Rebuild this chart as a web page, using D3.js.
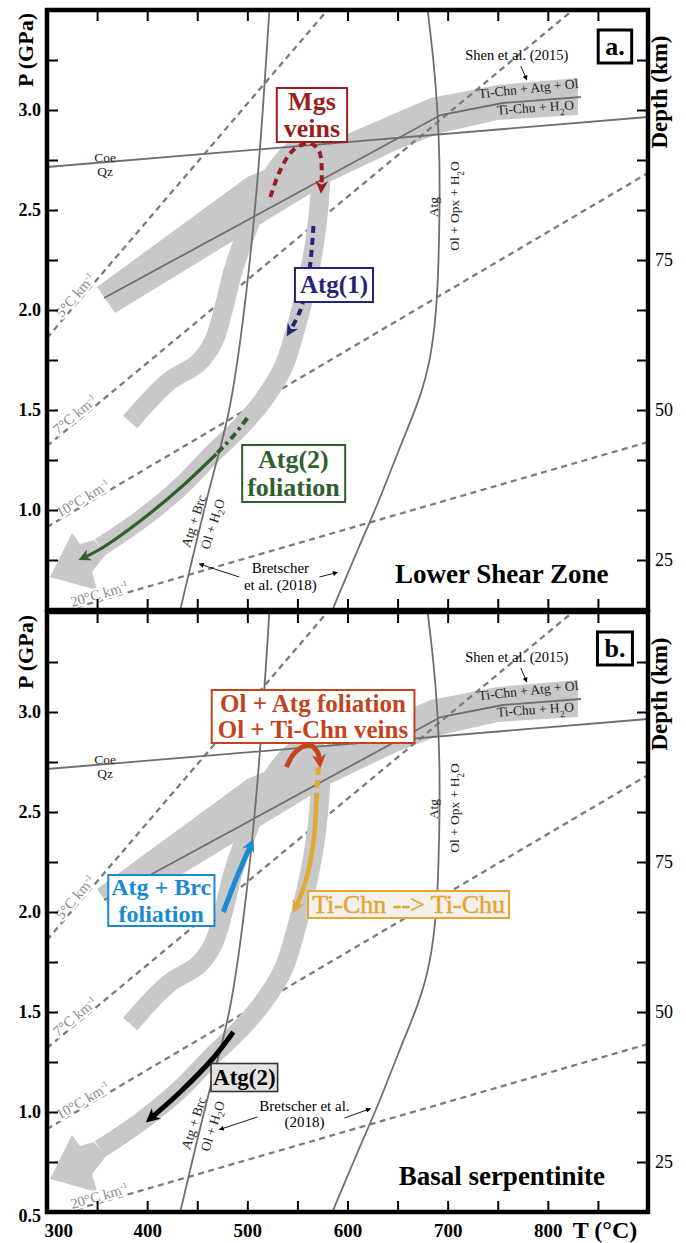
<!DOCTYPE html>
<html>
<head>
<meta charset="utf-8">
<script src="https://cdn.jsdelivr.net/npm/d3@7"></script>
<style>
  body { margin: 0; background: #fff; }
  svg text { font-family: "Liberation Serif", "Times New Roman", serif; }
</style>
</head>
<body>
<svg id="chart" width="686" height="1243"></svg>
<script>
// ---- data (T in °C, P in GPa) ----
const tDomain = [300, 900];
const pDomain = [0.5, 3.5];
const tTicks = [300, 350, 400, 450, 500, 550, 600, 650, 700, 750, 800, 850];
const tLabels = [300, 400, 500, 600, 700, 800];
const pTicks = [0.75, 1, 1.25, 1.5, 1.75, 2, 2.25, 2.5, 2.75, 3, 3.25];
const pLabelSets = [[1, 1.5, 2, 2.5, 3], [0.5, 1, 1.5, 2, 2.5, 3]];
const depthTicks = [25, 33.33, 41.67, 50, 58.33, 66.67, 75, 83.33, 91.67, 100, 108.33];
const depthLabels = [25, 50, 75];
const kmPerGPa = 100 / 3;

const geoNames = ["5", "7", "10", "20"];
const geoLines = [
  [[300, 1.86], [580, 3.5]],
  [[300, 1.32], [825, 3.5]],
  [[300, 0.915], [900, 2.685]],
  [[320, 0.5], [900, 1.34]]
];
const geoLabelT = [333, 332, 339, 354];

const coeQz = [[300, 2.715], [900, 2.965]];
const atgBrc = [[522, 3.5], [512, 2.72], [500, 2.1], [483, 1.47], [466, 1.2], [433, 0.5]];
const atgOpx = [[680, 3.5], [686, 3.25], [690, 3.0], [692, 2.75], [692, 2.5], [691, 2.25],
  [689, 2.0], [683, 1.75], [672, 1.55], [651, 1.3], [632, 1.05], [610, 0.8], [589, 0.55], [585, 0.5]];
const shenLine = [[357, 2.06], [693, 2.975], [755, 3.035], [833, 3.065]];
const shenBand = [[350, 2.115], [500, 2.665], [602, 2.885], [683, 3.06], [750, 3.125], [830, 3.16],
  [830, 2.975], [750, 2.95], [693, 2.885], [649, 2.8], [582, 2.64], [368, 1.985]];

const loopPath = [[383, 1.44], [421, 1.64], [451, 1.735], [466, 1.84], [476, 2.0], [486, 2.2],
  [500, 2.4], [513, 2.56], [527, 2.69], [543, 2.785], [557, 2.83], [568, 2.815], [573, 2.76],
  [572, 2.55], [567, 2.33], [559, 2.12], [549, 1.92], [536, 1.715], [516, 1.55], [493, 1.415],
  [466, 1.285], [433, 1.115], [393, 0.95], [353, 0.815]];
const loopHead = [[303, 0.665], [325, 0.885], [333, 0.83], [347, 0.85], [359, 0.78], [345, 0.69], [350, 0.6]];

// panel a paths
const mgsArrow = [[523, 2.565], [533, 2.7], [546, 2.8], [562, 2.835], [572, 2.79], [574, 2.62]];
const atg1Arrow = [[566, 2.42], [562, 2.2], [553, 2.0], [543, 1.9]];
const atg2Dashed = [[500, 1.46], [486, 1.37], [469, 1.28]];
const atg2Arrow = [[469, 1.28], [433, 1.11], [393, 0.945], [355, 0.81], [338, 0.765]];
// panel b paths
const olAtgArrow = [[539, 2.725], [548, 2.8], [562, 2.835], [570, 2.8], [572, 2.76]];
const tiDashed = [[571, 2.725], [569, 2.575]];
const tiArrow = [[569, 2.575], [566, 2.35], [558, 2.15], [549, 2.03]];
const brcArrow = [[476, 2.0], [490, 2.18], [503, 2.33]];
const atg2bArrow = [[486, 1.4], [466, 1.27], [433, 1.1], [405, 0.975]];

const panelNames = ["a.", "b."];
const panelTitles = ["Lower Shear Zone", "Basal serpentinite"];
const bretscherText = [["Bretscher", "et al. (2018)"], ["Bretscher et al.", "(2018)"]];
const bretscherAt = [[533, 0.685, 0.6], [557, 1.005, 0.925]];
const bretscherArrows = [
  [[[492, 0.665], [452, 0.73]], [[572, 0.665], [590, 0.688]]],
  [[[510, 0.975], [472, 0.912]], [[597, 0.97], [623, 1.017]]]
];

// ---- layout ----
const svg = d3.select("#chart");
const panelTops = [10, 612];
const x = d3.scaleLinear().domain(tDomain).range([47, 648]);
const GRAY = "#c8c8c8";
const LINE = "#6f6f6f";
const DASH = "#7b7b7b";
const SANS = "Liberation Sans, Arial, sans-serif";

const defs = svg.append("defs");
function marker(id, color, len, wid) {
  defs.append("marker")
    .attr("id", id)
    .attr("viewBox", "0 -5 10 10")
    .attr("refX", 4)
    .attr("refY", 0)
    .attr("markerUnits", "userSpaceOnUse")
    .attr("markerWidth", len)
    .attr("markerHeight", wid)
    .attr("orient", "auto")
    .append("path")
    .attr("d", "M0,-5L10,0L0,5L3,0Z")
    .attr("fill", color);
}
marker("m-mgs", "#9a1d20", 13, 13);
marker("m-atg1", "#262477", 13, 12);
marker("m-atg2", "#2f5f2c", 14, 12);
marker("m-ol", "#c2441f", 15, 14);
marker("m-ti", "#e2a735", 15, 13);
marker("m-brc", "#1c8ad3", 15, 13);
marker("m-blk", "#000", 16, 14);
defs.append("marker")
  .attr("id", "m-thin")
  .attr("viewBox", "0 -5 10 10")
  .attr("refX", 9)
  .attr("markerUnits", "userSpaceOnUse")
  .attr("markerWidth", 6)
  .attr("markerHeight", 5)
  .attr("orient", "auto")
  .append("path")
  .attr("d", "M0,-5L10,0L0,5Z")
  .attr("fill", "#000");

// text with _2 subscripts and ^-1 superscripts
function rich(sel, s) {
  s.split(/(_\d|\^-1)/).forEach((part) => {
    if (!part) return;
    if (part[0] === "_") {
      sel.append("tspan").attr("baseline-shift", "sub").attr("font-size", "70%").text(part.slice(1));
    } else if (part[0] === "^") {
      sel.append("tspan").attr("baseline-shift", "super").attr("font-size", "60%").text(part.slice(1));
    } else {
      sel.append("tspan").text(part);
    }
  });
  return sel;
}

function drawPanel(i) {
  const top = panelTops[i];
  const y = d3.scaleLinear().domain(pDomain).range([top + 600, top]);
  const line = d3.line().x((d) => x(d[0])).y((d) => y(d[1]));
  const smooth = d3.line().x((d) => x(d[0])).y((d) => y(d[1])).curve(d3.curveCatmullRom.alpha(0.5));
  const soft = d3.line().x((d) => x(d[0])).y((d) => y(d[1])).curve(d3.curveBasis);

  defs.append("clipPath").attr("id", "clip" + i)
    .append("rect").attr("x", 47).attr("y", top).attr("width", 601).attr("height", 600);

  const g = svg.append("g").attr("clip-path", `url(#clip${i})`);

  // Shen et al. band
  g.append("path").attr("d", line(shenBand) + "Z").attr("fill", GRAY);

  // geotherms
  geoLines.forEach((pts) => {
    g.append("path").attr("d", line(pts)).attr("fill", "none")
      .attr("stroke", DASH).attr("stroke-width", 2.3).attr("stroke-dasharray", "6,4.5");
  });

  // P-T loop band
  g.append("path").attr("d", smooth(loopPath)).attr("fill", "none")
    .attr("stroke", GRAY).attr("stroke-width", 19).attr("stroke-linejoin", "round");
  g.append("path").attr("d", line(loopHead) + "Z").attr("fill", GRAY);

  // reaction lines
  [coeQz, shenLine].forEach((pts) => {
    g.append("path").attr("d", line(pts)).attr("fill", "none").attr("stroke", LINE).attr("stroke-width", 1.8);
  });
  [atgBrc, atgOpx].forEach((pts) => {
    g.append("path").attr("d", soft(pts)).attr("fill", "none").attr("stroke", LINE).attr("stroke-width", 1.8);
  });

  // geotherm labels
  geoLines.forEach((pts, k) => {
    const [[t1, p1], [t2, p2]] = pts;
    const t = geoLabelT[k];
    const p = p1 + (p2 - p1) * (t - t1) / (t2 - t1);
    const ang = Math.atan2(y(p2) - y(p1), x(t2) - x(t1)) * 180 / Math.PI;
    const txt = g.append("text")
      .attr("transform", `translate(${x(t)},${y(p)}) rotate(${ang})`)
      .attr("dy", -1.5)
      .attr("text-anchor", "middle")
      .attr("font-size", 14.5)
      .attr("fill", "#8a8a8a")
      .attr("stroke", "#fff").attr("stroke-width", 4).attr("paint-order", "stroke");
    rich(txt, `${geoNames[k]}°C km^-1`);
  });

  // small reaction labels
  const small = (T, P, s, rot, anchor) => {
    const t = g.append("text")
      .attr("transform", `translate(${x(T)},${y(P)}) rotate(${rot || 0})`)
      .attr("text-anchor", anchor || "middle")
      .attr("font-size", 13.5).attr("fill", "#222");
    return rich(t, s);
  };
  small(358, 2.738, "Coe");
  small(358, 2.668, "Qz");
  small(781, 3.085, "Ti-Chn + Atg + Ol", -6);
  small(788, 2.99, "Ti-Chu + H_2O", -4);
  small(690, 2.515, "Atg", -90);
  small(711, 2.52, "Ol + Opx + H_2O", -90);
  small(446, 0.945, "Atg + Brc", -72).attr("dominant-baseline", "central");
  small(465, 0.93, "Ol + H_2O", -72).attr("dominant-baseline", "central");

  // Shen et al. label
  g.append("text").attr("x", x(769)).attr("y", y(3.25)).attr("text-anchor", "middle")
    .attr("font-family", SANS).attr("font-size", 14.5).text("Shen et al. (2015)");
  g.append("path").attr("d", line([[773, 3.22], [779, 3.15]])).attr("stroke", "#000")
    .attr("stroke-width", 0.9).attr("marker-end", "url(#m-thin)");

  // Bretscher et al.
  const [bt, bp1, bp2] = bretscherAt[i];
  bretscherText[i].forEach((s, k) => {
    g.append("text").attr("x", x(bt)).attr("y", y(k ? bp2 : bp1)).attr("text-anchor", "middle")
      .attr("font-family", SANS).attr("font-size", 15).text(s);
  });
  bretscherArrows[i].forEach((pts) => {
    g.append("path").attr("d", line(pts)).attr("stroke", "#000")
      .attr("stroke-width", 0.9).attr("marker-end", "url(#m-thin)");
  });

  // colored arrows
  const arrow = (pts, color, w, mk, dash) => {
    const p = g.append("path").attr("d", smooth(pts)).attr("fill", "none")
      .attr("stroke", color).attr("stroke-width", w);
    if (dash) p.attr("stroke-dasharray", dash);
    if (mk) p.attr("marker-end", `url(#${mk})`);
  };

  // boxed labels
  const boxLabel = (T, lines, Ps, color, size, pad, opt = {}) => {
    const grp = g.append("g");
    const rect = grp.append("rect");
    const texts = lines.map((s, k) => {
      const t = grp.append("text").attr("x", x(T)).attr("y", y(Ps[k]))
        .attr("text-anchor", "middle").attr("font-size", size)
        .attr("font-weight", opt.weight || "bold").attr("fill", color);
      if (opt.thicken) t.attr("stroke", color).attr("stroke-width", opt.thicken);
      return rich(t, s);
    });
    let x0 = Infinity, y0 = Infinity, x1 = -Infinity, y1 = -Infinity;
    texts.forEach((t) => {
      const b = t.node().getBBox();
      x0 = Math.min(x0, b.x); y0 = Math.min(y0, b.y);
      x1 = Math.max(x1, b.x + b.width); y1 = Math.max(y1, b.y + b.height);
    });
    rect.attr("x", x0 - pad[0]).attr("y", y0 - pad[1])
      .attr("width", x1 - x0 + 2 * pad[0]).attr("height", y1 - y0 + 2 * pad[1])
      .attr("fill", opt.fill || "#fff").attr("stroke", opt.stroke || color)
      .attr("stroke-width", opt.sw || 2);
  };

  if (i === 0) {
    arrow(mgsArrow, "#9a1d20", 4, "m-mgs", "7,5");
    arrow(atg1Arrow, "#262477", 4, "m-atg1", "7,5");
    arrow(atg2Dashed, "#2f5f2c", 4, null, "8,4,3,4");
    arrow(atg2Arrow, "#2f5f2c", 3.2, "m-atg2");
    boxLabel(564.5, ["Mgs", "veins"], [3.0, 2.865], "#9a1d20", 26, [7, -1]);
    boxLabel(586.5, ["Atg(1)"], [2.085], "#262477", 25, [5, 3]);
    boxLabel(546, ["Atg(2)", "foliation"], [1.21, 1.07], "#2f5f2c", 26, [5, 0]);
  } else {
    arrow(olAtgArrow, "#c2441f", 5, "m-ol");
    arrow(tiDashed, "#e2a735", 5, null, "8,5");
    arrow(tiArrow, "#e2a735", 4.5, "m-ti");
    arrow(brcArrow, "#1c8ad3", 5, "m-brc");
    arrow(atg2bArrow, "#000", 5, "m-blk");
    boxLabel(565.5, ["Ol + Atg foliation", "Ol + Ti-Chn veins"], [3.0, 2.87], "#c2441f", 25, [6, 0]);
    boxLabel(414, ["Atg + Brc", "foliation"], [2.085, 1.95], "#1c8ad3", 24, [3, -1]);
    boxLabel(661, ["Ti-Chn --> Ti-Chu"], [1.995], "#e2a735", 26, [4, -1],
      { weight: "normal", fill: "#f4f0ea", thicken: 0.5 });
    boxLabel(497, ["Atg(2)"], [1.135], "#000", 23, [2, 1.5], { fill: "#e4e4e4", stroke: "#333", sw: 1.6 });
  }

  // panel letter and title
  boxLabel(867, [panelNames[i]], [3.275], "#000", 26, [7, 2], { sw: 3 });
  g.append("text").attr("x", x(754)).attr("y", y(0.635)).attr("text-anchor", "middle")
    .attr("font-size", 27).attr("font-weight", "bold").text(panelTitles[i]);

  // frame
  svg.append("rect").attr("x", 47).attr("y", top).attr("width", 601).attr("height", 600)
    .attr("fill", "none").attr("stroke", "#000").attr("stroke-width", 4.5);

  // axes (inward ticks)
  const tl = 11;
  const styleAxis = (a, size, weight) => {
    a.select(".domain").remove();
    a.selectAll("line").attr("stroke", "#000").attr("stroke-width", 2);
    a.selectAll("text").attr("font-family", "Liberation Serif, serif")
      .attr("font-size", size).attr("font-weight", weight).attr("fill", "#000");
  };
  const leftVals = Array.from(new Set(pTicks.concat(pLabelSets[i]))).sort();
  const left = svg.append("g").attr("transform", `translate(${x.range()[0]},0)`)
    .call(d3.axisLeft(y).tickValues(leftVals).tickSize(-tl).tickPadding(6)
      .tickFormat((d) => pLabelSets[i].includes(d) ? d3.format(".1f")(d) : ""));
  styleAxis(left, 18, "bold");
  left.selectAll(".tick").filter((d) => d === 0.5).select("text").attr("dy", "0.55em");

  const yDepth = d3.scaleLinear().domain(pDomain.map((p) => p * kmPerGPa)).range(y.range());
  const right = svg.append("g").attr("transform", `translate(${x.range()[1]},0)`)
    .call(d3.axisRight(yDepth).tickValues(depthTicks).tickSize(-tl).tickPadding(7)
      .tickFormat((d) => depthLabels.includes(d) ? d : ""));
  styleAxis(right, 18, "normal");

  const topAx = svg.append("g").attr("transform", `translate(0,${top})`)
    .call(d3.axisTop(x).tickValues(tTicks.slice(1)).tickSize(-tl).tickFormat(""));
  styleAxis(topAx, 18, "bold");

  const bottom = svg.append("g").attr("transform", `translate(0,${top + 600})`)
    .call(d3.axisBottom(x).tickValues(i === 1 ? tTicks : tTicks.slice(1)).tickSize(-tl).tickPadding(12)
      .tickFormat((d) => (i === 1 && tLabels.includes(d)) ? d : ""));
  styleAxis(bottom, 19, "bold");
  bottom.selectAll(".tick").filter((d) => d === 300).select("text")
    .attr("text-anchor", "start").attr("x", -3);

  // axis titles
  svg.append("text").attr("transform", `translate(33,${top + 40}) rotate(-90)`)
    .attr("text-anchor", "middle").attr("font-size", 22).attr("font-weight", "bold").text("P (GPa)");
  svg.append("text").attr("transform", `translate(667,${top + 82}) rotate(-90)`)
    .attr("text-anchor", "middle").attr("font-size", 23).attr("font-weight", "bold").text("Depth (km)");
}

drawPanel(0);
drawPanel(1);

svg.append("text").attr("x", 605).attr("y", 1238).attr("text-anchor", "middle")
  .attr("font-size", 24).attr("font-weight", "bold").text("T (°C)");
</script>
</body>
</html>
